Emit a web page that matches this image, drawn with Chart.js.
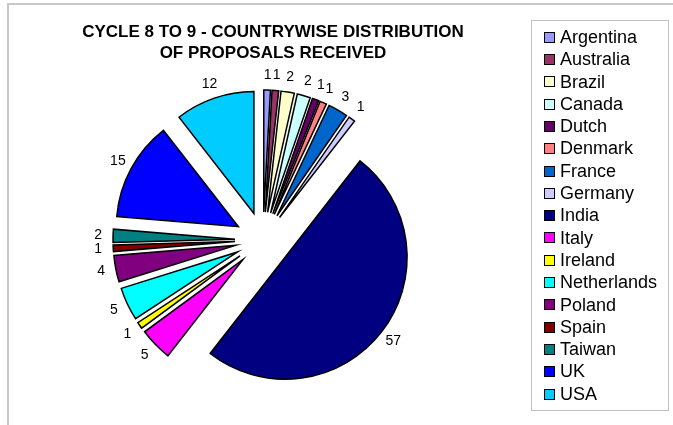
<!DOCTYPE html>
<html>
<head>
<meta charset="utf-8">
<script src="https://cdn.jsdelivr.net/npm/chart.js@4.4.0/dist/chart.umd.min.js"></script>
<style>
  html, body { margin: 0; padding: 0; background: #fff; }
  #wrap { position: relative; width: 673px; height: 425px; overflow: hidden; font-family: "Liberation Sans", Arial, sans-serif; }
  #frame { position: absolute; left: 7px; top: 3px; width: 720px; height: 480px; border: 2px solid #c8c8c8; }
  #pie { position: absolute; left: 0; top: 0; }
  #title { position: absolute; left: 73px; width: 400px; top: 21px; text-align: center; font-weight: bold; font-size: 17px; line-height: 21px; color: #000; }
  #legend { position: absolute; left: 531px; top: 20px; width: 138px; height: 391px; border: 1px solid #c0c0c0; box-sizing: border-box; padding-top: 5px; }
  .item { height: 22.3px; line-height: 22.3px; font-size: 18px; color: #000; white-space: nowrap; padding-left: 12px; }
  .swatch { display: inline-block; width: 9px; height: 9px; border: 1px solid #000; vertical-align: middle; margin-right: 5px; position: relative; top: -1px; }
</style>
</head>
<body>
<div id="wrap">
  <div id="frame"></div>
  <canvas id="pie" width="673" height="425"></canvas>
  <div id="title">CYCLE 8 TO 9 - COUNTRYWISE DISTRIBUTION<br>OF PROPOSALS RECEIVED</div>
  <div id="legend"></div>
</div>
<script>
// proposals received per country, cycle 8 to 9
const countries = ['Argentina', 'Australia', 'Brazil', 'Canada', 'Dutch', 'Denmark', 'France', 'Germany',
  'India', 'Italy', 'Ireland', 'Netherlands', 'Poland', 'Spain', 'Taiwan', 'UK', 'USA'];
const proposals = [1, 1, 2, 2, 1, 1, 3, 1, 57, 5, 1, 5, 4, 1, 2, 15, 12];

const sliceColors = ['#9999ff', '#993366', '#ffffcc', '#ccffff', '#660066', '#ff8080', '#0066cc', '#ccccff',
  '#000080', '#ff00ff', '#ffff00', '#00ffff', '#800080', '#800000', '#008080', '#0000ff', '#00ccff'];

const EXPLODE = 28;      // distancia que cada fatia sai do centro
const RADIUS = 122;
const LABEL_DIST = 165;  // centro -> rotulo do valor

// legenda em html, com borda
const legendEl = document.getElementById('legend');
countries.forEach((name, i) => {
  const row = document.createElement('div');
  row.className = 'item';
  row.innerHTML = `<span class="swatch" style="background:${sliceColors[i]}"></span>${name}`;
  legendEl.appendChild(row);
});

// desenha cada fatia deslocada para fora (pizza explodida)
const explodePlugin = {
  id: 'explode',
  beforeDatasetDraw(chart, args) {
    const ctx = chart.ctx;
    args.meta.data.forEach(arc => {
      const mid = (arc.startAngle + arc.endAngle) / 2;
      ctx.save();
      ctx.translate(Math.cos(mid) * EXPLODE, Math.sin(mid) * EXPLODE);
      arc.draw(ctx);
      ctx.restore();
    });
    return false;
  }
};

// rotulos com o valor fora de cada fatia
const valueLabels = {
  id: 'valueLabels',
  afterDatasetsDraw(chart) {
    const ctx = chart.ctx;
    const meta = chart.getDatasetMeta(0);
    ctx.save();
    ctx.font = '14px "Liberation Sans", Arial, sans-serif';
    ctx.fillStyle = '#000';
    ctx.textAlign = 'center';
    ctx.textBaseline = 'middle';
    meta.data.forEach((arc, i) => {
      const mid = (arc.startAngle + arc.endAngle) / 2;
      ctx.fillText(String(proposals[i]), arc.x + Math.cos(mid) * LABEL_DIST, arc.y + Math.sin(mid) * LABEL_DIST);
    });
    ctx.restore();
  }
};

new Chart(document.getElementById('pie').getContext('2d'), {
  type: 'pie',
  data: {
    labels: countries,
    datasets: [{
      data: proposals,
      backgroundColor: sliceColors,
      borderColor: '#000',
      borderWidth: 1.5,
      borderJoinStyle: 'miter',
      radius: RADIUS,
      clip: false
    }]
  },
  options: {
    responsive: false,
    animation: false,
    layout: { padding: { left: 0, right: 147, top: 55, bottom: 0 } },
    plugins: {
      legend: { display: false },
      title: { display: false },
      tooltip: { enabled: false }
    }
  },
  plugins: [explodePlugin, valueLabels]
});
</script>
</body>
</html>
